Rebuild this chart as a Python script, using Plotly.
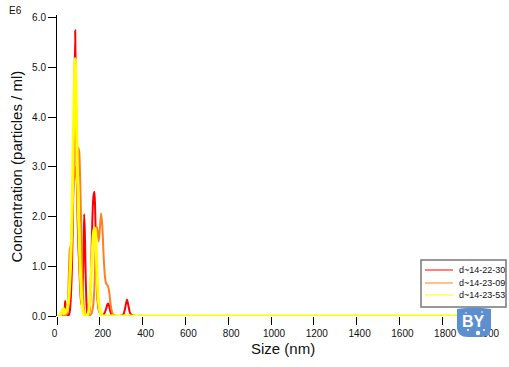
import plotly.graph_objects as go

sizes = [0, 10, 20, 25, 30, 35, 38, 42, 46, 50, 55, 60, 65, 70, 75, 80, 85, 88, 92, 96, 100, 104, 108, 112, 116, 120, 124, 127, 130, 134, 138, 142, 146, 150, 155, 160, 165, 170, 175, 178, 182, 186, 190, 195, 200, 206, 212, 218, 224, 230, 236, 240, 245, 250, 256, 262, 270, 280, 295, 310, 318, 327, 335, 342, 355, 370, 400, 600, 1000, 1500, 2000]
red = [0, 0, 0.02, 0.1, 0.12, 0.08, 0.3, 0.15, 0.02, 0.01, 0.02, 0.1, 0.4, 1.0, 2.2, 3.9, 5.75, 4.6, 3.0, 2.0, 1.4, 1.0, 0.6, 0.3, 0.22, 0.5, 1.4, 2.05, 1.7, 0.8, 0.25, 0.05, 0.02, 0.05, 0.3, 1.0, 1.9, 2.4, 2.5, 2.2, 1.4, 0.7, 0.3, 0.12, 0.06, 0.03, 0.02, 0.03, 0.08, 0.15, 0.24, 0.25, 0.18, 0.08, 0.02, 0.01, 0, 0, 0, 0.03, 0.15, 0.33, 0.18, 0.05, 0.01, 0, 0, 0, 0, 0, 0]
orange = [0, 0, 0, 0, 0, 0.01, 0.01, 0.02, 0.05, 0.2, 0.8, 1.35, 1.42, 1.9, 2.4, 2.8, 3.0, 2.9, 2.7, 3.1, 3.38, 3.3, 2.8, 2.0, 1.2, 0.6, 0.25, 0.1, 0.04, 0.01, 0, 0, 0, 0.01, 0.02, 0.04, 0.1, 0.25, 0.6, 1.0, 1.5, 1.8, 1.7, 1.5, 1.75, 2.07, 1.8, 1.2, 0.8, 0.65, 0.62, 0.58, 0.45, 0.25, 0.1, 0.03, 0.01, 0, 0, 0, 0, 0, 0, 0, 0, 0, 0, 0, 0, 0, 0]
yellow = [0, 0, 0.05, 0.12, 0.15, 0.1, 0.06, 0.08, 0.12, 0.2, 0.35, 0.7, 1.2, 2.0, 3.2, 4.4, 5.18, 4.7, 3.7, 2.8, 2.1, 1.5, 1.0, 0.6, 0.3, 0.15, 0.05, 0.02, 0.01, 0, 0.01, 0.02, 0.05, 0.15, 0.4, 0.85, 1.3, 1.65, 1.77, 1.75, 1.5, 1.0, 0.55, 0.25, 0.1, 0.03, 0.01, 0, 0, 0, 0, 0, 0, 0, 0, 0, 0, 0, 0, 0, 0, 0, 0, 0, 0, 0, 0, 0, 0, 0, 0]
series_names = ["d~14-22-30", "d~14-23-09", "d~14-23-53"]
x_ticks = list(range(0, 2001, 200))
x_labels = ["0\u00a0\u00a0\u00a0\u00a0"] + [str(v) for v in x_ticks[1:]]
y_ticks = [0, 1, 2, 3, 4, 5, 6]
y_labels = ["0.0", "1.0", "2.0", "3.0", "4.0", "5.0", "6.0"]

FONT = "Liberation Sans, Arial, sans-serif"
COLORS = ["#ff0000", "#ff8020", "#ffff00"]
WIDTHS = [2, 2, 3]
L, R, T, B = 57, 24, 15, 51
W, H = 509, 367
def px(p): return (p - L) / (W - L - R)
def py(p): return (H - B - p) / (H - T - B)

fig = go.Figure()
for name, vals, col, w in zip(series_names, [red, orange, yellow], COLORS, WIDTHS):
    fig.add_trace(go.Scatter(x=sizes, y=vals, name=name, mode="lines", showlegend=False,
                             line=dict(color=col, width=w, shape="spline", smoothing=0.6),
                             cliponaxis=False))

fig.update_layout(
    width=W, height=H, margin=dict(l=L, r=R, t=T, b=B, autoexpand=False),
    paper_bgcolor="white", plot_bgcolor="white", font=dict(family=FONT, color="#111"),
    xaxis=dict(range=[0, 2000], tickvals=x_ticks, ticktext=x_labels, ticks="outside", ticklen=8, tickwidth=1,
               tickcolor="black", showline=False, showgrid=False, zeroline=False, automargin=False,
               layer="below traces", ticklabelshift=3, tickfont=dict(size=10)),
    yaxis=dict(range=[0, 6.06], tickvals=y_ticks, ticktext=y_labels, ticks="outside", ticklen=8, tickwidth=1,
               tickcolor="black", showline=True, linecolor="black", linewidth=1, showgrid=False, zeroline=False,
               automargin=False, layer="below traces", tickfont=dict(size=10)),
    showlegend=False,
)
fig.add_annotation(text="Size (nm)", xref="paper", yref="paper", x=px(283), y=py(348), xanchor="center", yanchor="middle",
                   showarrow=False, font=dict(size=15))
fig.add_annotation(text="Concentration (particles / ml)", xref="paper", yref="paper", x=px(16), y=py(166.5), textangle=-90,
                   xanchor="center", yanchor="middle", showarrow=False, font=dict(size=15))
fig.add_annotation(text="E6", xref="paper", yref="paper", x=px(15), y=py(10.5), xanchor="center", yanchor="middle",
                   showarrow=False, font=dict(size=10))

# legend box (a native legend cannot have rows this tight)
fig.add_shape(type="rect", xref="paper", yref="paper", layer="above", x0=px(421), x1=px(506), y0=py(260), y1=py(307),
              fillcolor="white", line=dict(color="#777777", width=1.5))
for name, col, row in zip(series_names, COLORS, [270, 283, 295]):
    fig.add_shape(type="line", xref="paper", yref="paper", layer="above", x0=px(425), x1=px(453), y0=py(row), y1=py(row),
                  line=dict(color=col, width=1))
    fig.add_annotation(text=name, xref="paper", yref="paper", x=px(458), y=py(row), xanchor="left", yanchor="middle",
                       showarrow=False, font=dict(size=9), borderpad=0)

# watermark badge
fig.add_shape(type="path", xref="paper", yref="paper", layer="above", fillcolor="#5b8fd0", line=dict(width=0),
              path=f"M {px(457)} {py(309)} Q {px(474)} {py(306)} {px(491)} {py(309)} L {px(491)} {py(327)} "
                   f"Q {px(491)} {py(337)} {px(480)} {py(337)} L {px(468)} {py(337)} Q {px(457)} {py(337)} {px(457)} {py(327)} Z")
for cx, cy, r in [(478, 333, 2.2), (468, 330, 1), (484, 330, 1), (466, 313, 0.8), (482, 312, 0.8)]:
    fig.add_shape(type="circle", xref="paper", yref="paper", layer="above", fillcolor="white", line=dict(width=0),
                  x0=px(cx - r), x1=px(cx + r), y0=py(cy + r), y1=py(cy - r))
fig.add_annotation(text="<b>BY</b>", xref="paper", yref="paper", x=px(473.5), y=py(321), xanchor="center", yanchor="middle",
                   showarrow=False, font=dict(size=16, color="white", family=FONT))
fig.write_html("out.html", config={"displayModeBar": False},
               post_script="document.body.style.margin='0';document.body.style.overflow='hidden';")
